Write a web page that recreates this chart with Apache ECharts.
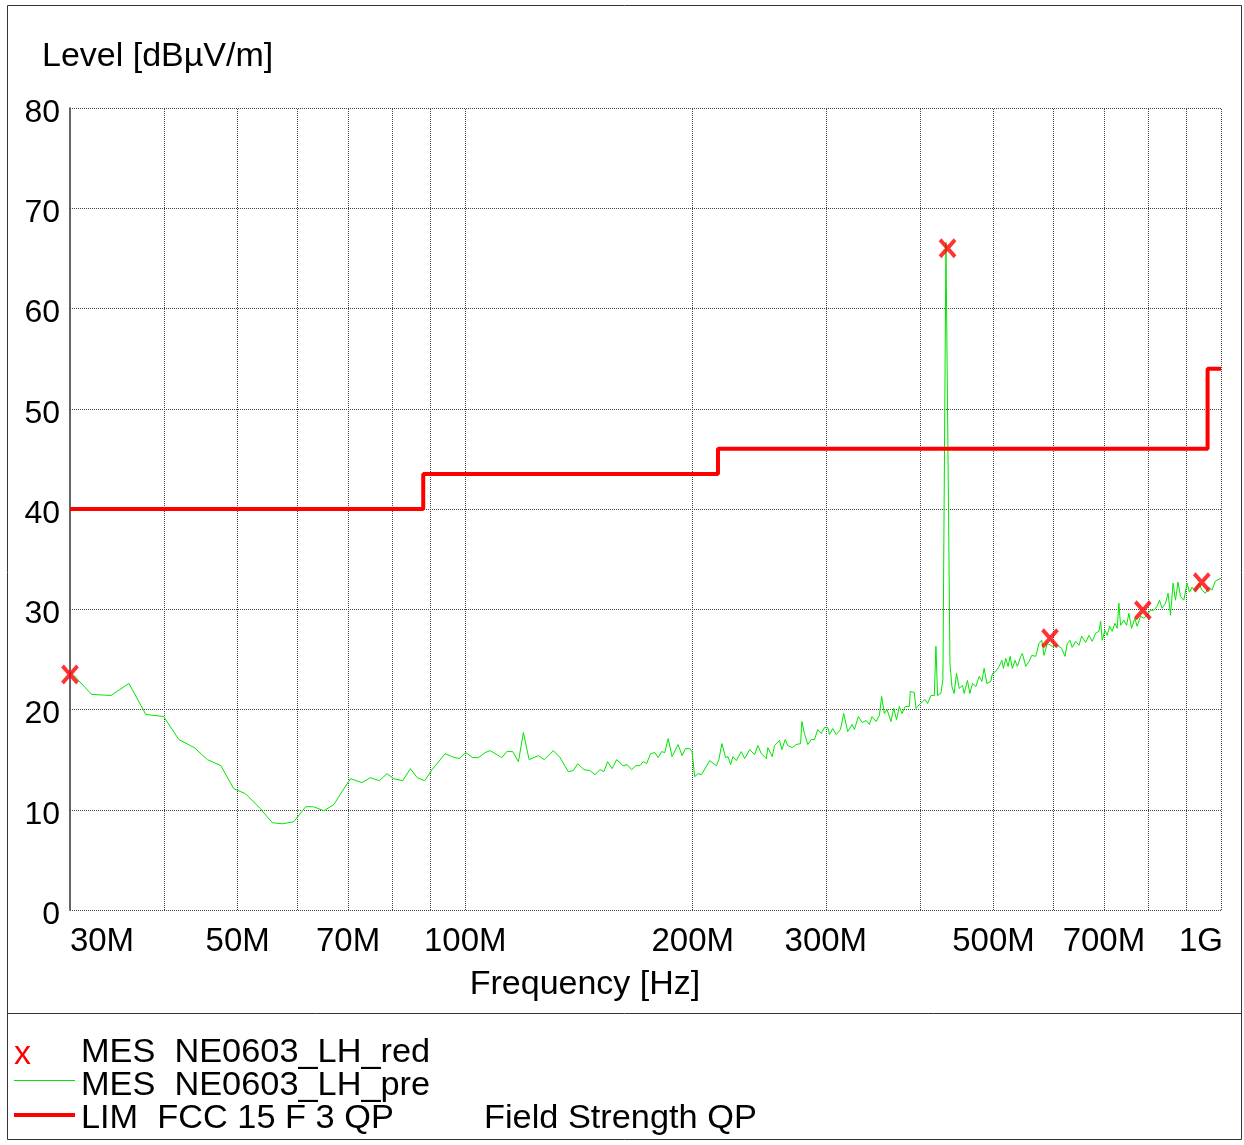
<!DOCTYPE html>
<html><head><meta charset="utf-8">
<script src="https://cdn.jsdelivr.net/npm/echarts@6/dist/echarts.min.js"></script>
<style>html,body{margin:0;padding:0;background:#fff}#c{width:1244px;height:1145px}</style>
</head><body><div id="c"></div>
<script>
// ---- data (frequency in MHz, level in dBµV/m) ----
const preFreq = [30.0,32.05,34.0,35.9,37.8,39.9,41.8,43.8,45.6,47.5,49.4,51.2,53.6,54.7,55.6,57.3,59.3,61.5,63.0,65.0,67.0,68.7,70.5,73.0,74.9,77.0,78.8,80.4,82.7,84.6,86.4,88.4,90.4,94.1,96.0,98.2,100.2,102.3,104.1,106.3,107.9,111.8,113.5,115.6,117.6,119.4,121.5,125.0,127.2,130.8,133.5,136.9,139.0,140.9,143.6,146.2,148.5,150.8,152.6,154.3,156.5,158.6,161.8,163.8,166.0,168.2,170.3,172.0,173.8,175.9,178.2,180.0,181.9,183.7,185.6,187.8,191.3,193.6,195.6,198.2,199.6,201.2,203.3,205.4,210.6,214.9,216.6,218.6,221.1,222.7,224.5,226.1,228.4,231.9,234.3,237.9,241.5,243.9,246.5,250.2,251.5,254.8,256.6,260.6,262.4,265.1,267.2,270.8,274.1,277.8,278.9,281.1,284.0,286.9,289.8,292.7,295.8,298.8,301.8,303.4,306.4,309.6,313.7,316.8,320.7,325.0,327.3,331.3,335.1,339.2,342.6,345.4,349.6,353.2,355.6,358.6,361.5,365.9,368.9,372.2,375.3,378.4,382.2,386.9,388.1,392.8,394.9,396.8,402.9,405.8,409.0,413.3,417.5,419.6,421.7,426.0,428.6,432.6,434.7,436.0,437.9,440.5,443.6,446.7,450.4,455.0,457.3,461.9,465.3,469.0,473.9,478.7,482.6,486.0,490.0,496.0,498.4,503.6,508.7,512.9,515.4,519.1,522.8,526.0,529.6,534.0,537.8,543.4,546.0,551.7,557.2,561.8,568.7,574.4,579.2,583.2,589.1,598.2,607.3,615.5,621.7,626.1,631.2,635.6,642.3,648.7,654.1,662.1,668.8,675.5,682.5,689.4,693.0,696.4,702.1,707.0,712.2,717.9,723.8,728.9,732.6,736.4,743.9,750.0,755.3,761.5,769.2,774.5,782.6,790.5,798.5,806.8,814.9,823.1,829.2,835.7,844.4,851.1,857.4,864.2,870.5,877.4,883.9,892.8,901.8,908.4,915.6,925.1,934.5,943.9,953.7,963.3,973.0,982.8,1000];
const preLevel = [23.8,21.5,21.4,22.6,19.5,19.3,17.0,16.2,15.0,14.4,12.1,11.6,10.1,9.3,8.7,8.6,8.8,10.3,10.3,9.9,10.5,11.8,13.1,12.7,13.2,12.9,13.6,13.1,12.9,14.1,13.2,12.9,14.0,15.6,15.3,15.1,15.7,15.2,15.2,15.7,15.9,15.2,15.8,15.8,14.8,17.7,15.0,15.4,15.0,15.9,15.2,13.8,13.9,14.6,14.0,13.9,13.5,14.0,13.8,14.8,14.1,15.0,14.4,14.5,14.0,14.4,14.4,14.8,14.6,15.6,15.7,15.2,15.8,15.7,17.1,15.3,16.5,15.4,16.1,16.1,15.8,13.3,13.6,13.5,14.9,14.4,15.0,16.6,15.2,15.3,14.5,15.3,14.9,15.8,15.1,16.0,15.5,16.4,15.6,15.1,16.2,15.3,16.4,16.9,16.0,17.0,16.4,16.2,16.5,16.6,18.8,17.6,16.5,17.0,17.0,18.0,17.6,18.2,18.2,17.5,18.1,17.5,18.0,19.6,17.8,18.5,18.0,19.3,18.7,18.9,18.5,19.3,18.8,19.4,21.3,19.6,20.0,18.8,20.1,19.0,20.3,19.6,20.3,20.3,21.8,21.7,20.1,20.3,20.8,21.0,20.6,21.4,21.4,26.3,21.4,21.6,23.0,66.6,66.6,40.0,24.6,22.3,21.6,23.6,22.1,22.4,21.6,22.9,21.6,22.6,22.3,23.3,22.8,24.1,22.6,22.8,23.6,23.8,24.3,24.9,24.1,25.1,24.3,25.3,24.1,24.9,24.3,25.3,25.6,24.3,24.8,25.4,25.3,26.6,26.9,25.4,26.6,26.3,26.4,26.1,25.3,26.6,26.9,26.2,26.8,26.4,27.3,26.7,27.4,26.8,27.6,27.8,28.8,26.9,27.9,27.4,28.3,27.8,28.6,28.1,30.6,28.4,28.9,28.4,29.6,28.1,29.1,28.3,29.3,29.1,29.4,29.9,29.9,30.3,30.9,30.1,30.6,31.6,29.4,32.6,30.9,32.7,31.3,30.9,32.6,31.7,32.2,31.7,32.6,31.9,31.6,32.2,31.9,32.8,33.1];

const redFreq  = [30, 434.7, 594.0, 788.1, 943.0];
const redLevel = [23.5, 66.0, 27.1, 29.9, 32.7];

const limFreq  = [30, 88, 216, 960, 1000];
const limLevel = [40, 43.5, 46, 54, 54];

const gridFreq  = [40, 50, 60, 70, 80, 90, 100, 200, 300, 400, 500, 600, 700, 800, 900, 1000];
const tickFreq  = [30, 50, 70, 100, 200, 300, 500, 700, 1000];
const tickText  = ['30M', '50M', '70M', '100M', '200M', '300M', '500M', '700M', '1G'];

// ---- build ----
const FONT = "'Liberation Sans', Arial, sans-serif";
const zip = (a, b) => a.map((v, i) => [v, b[i]]);

const gridLineStyle = { color: '#444', width: 1, type: [1, 1] };
const labelBase = { show: true, position: 'start', distance: 15, fontSize: 33, color: '#000', fontFamily: FONT };
const mlData = [];
gridFreq.forEach(f => {
  const ti = tickFreq.indexOf(f);
  const item = { xAxis: f, lineStyle: gridLineStyle };
  if (ti >= 0) {
    item.label = Object.assign({}, labelBase, { formatter: tickText[ti] });
    if (f === 1000) item.label.padding = [0, 40, 0, 0];
  } else {
    item.label = { show: false };
  }
  mlData.push(item);
});
tickFreq.forEach((f, i) => {
  if (gridFreq.indexOf(f) < 0) {
    mlData.push({ xAxis: f, lineStyle: { color: 'rgba(0,0,0,0)', width: 0 },
      label: Object.assign({}, labelBase, { formatter: tickText[i], padding: [0, 0, 0, 64] }) });
  }
});

const legendText = { fontSize: 33, fill: '#000', fontFamily: FONT, verticalAlign: 'middle' };

const chart = echarts.init(document.getElementById('c'), null, { renderer: 'canvas' });
chart.setOption({
  animation: false,
  backgroundColor: '#fff',
  textStyle: { fontFamily: FONT },
  title: {
    text: 'Level [dBµV/m]', left: 37, top: 35,
    textStyle: { fontSize: 34, fontWeight: 'normal', color: '#000', fontFamily: FONT }
  },
  grid: { left: 70, right: 23, top: 108, bottom: 235 },
  xAxis: {
    type: 'log', logBase: 10, min: 30, max: 1000,
    axisLine: { show: false }, axisTick: { show: false },
    axisLabel: { show: false }, splitLine: { show: false },
    name: 'Frequency [Hz]', nameLocation: 'middle', nameGap: 58,
    nameTextStyle: { fontSize: 34, color: '#000', fontFamily: FONT, padding: [0, 121, 0, 0] }
  },
  yAxis: {
    type: 'value', min: 0, max: 80, interval: 10,
    axisLine: { show: true, lineStyle: { color: '#333', width: 1.5 } },
    axisTick: { show: false },
    axisLabel: { fontSize: 32, color: '#000', margin: 10, fontFamily: FONT, verticalAlign: 'top', lineHeight: 10 },
    splitLine: { show: true, lineStyle: gridLineStyle }
  },
  series: [
    {
      name: 'MES  NE0603_LH_pre', type: 'line', data: zip(preFreq, preLevel),
      symbol: 'none', lineStyle: { color: '#00e600', width: 1 }, z: 3,
      markLine: { silent: true, symbol: 'none', z: 1, animation: false, data: mlData }
    },
    {
      name: 'LIM  FCC 15 F 3 QP', type: 'line', step: 'end', data: zip(limFreq, limLevel),
      symbol: 'none', lineStyle: { color: '#ff0000', width: 4 }, z: 4
    },
    {
      name: 'MES  NE0603_LH_red', type: 'scatter', data: zip(redFreq, redLevel),
      symbol: 'path://M0,0L15,17M15,0L0,17', symbolSize: [15, 17],
      itemStyle: { color: 'rgba(0,0,0,0)', borderColor: '#ff0000', borderWidth: 4 }, z: 5
    }
  ],
  graphic: [
    { type: 'rect', shape: { x: 7.5, y: 5.5, width: 1234, height: 1134 }, style: { fill: 'none', stroke: '#333', lineWidth: 1 }, silent: true },
    { type: 'line', shape: { x1: 7, y1: 1013.5, x2: 1242, y2: 1013.5 }, style: { stroke: '#333', lineWidth: 1 }, silent: true },
    { type: 'text', x: 14, y: 1055, style: { text: 'x', fontSize: 34, fill: '#ff0000', fontFamily: FONT, verticalAlign: 'middle' } },
    { type: 'line', shape: { x1: 14, y1: 1080.5, x2: 75, y2: 1080.5 }, style: { stroke: '#00e600', lineWidth: 1 } },
    { type: 'line', shape: { x1: 14, y1: 1115, x2: 75, y2: 1115 }, style: { stroke: '#ff0000', lineWidth: 4 } },
    { type: 'text', x: 81, y: 1053, scaleX: 1.04, style: Object.assign({ text: 'MES  NE0603_LH_red' }, legendText) },
    { type: 'text', x: 81, y: 1086, scaleX: 1.04, style: Object.assign({ text: 'MES  NE0603_LH_pre' }, legendText) },
    { type: 'text', x: 81, y: 1119, scaleX: 1.04, style: Object.assign({ text: 'LIM  FCC 15 F 3 QP' }, legendText) },
    { type: 'text', x: 484, y: 1119, scaleX: 1.04, style: Object.assign({ text: 'Field Strength QP' }, legendText) }
  ]
});
</script></body></html>
